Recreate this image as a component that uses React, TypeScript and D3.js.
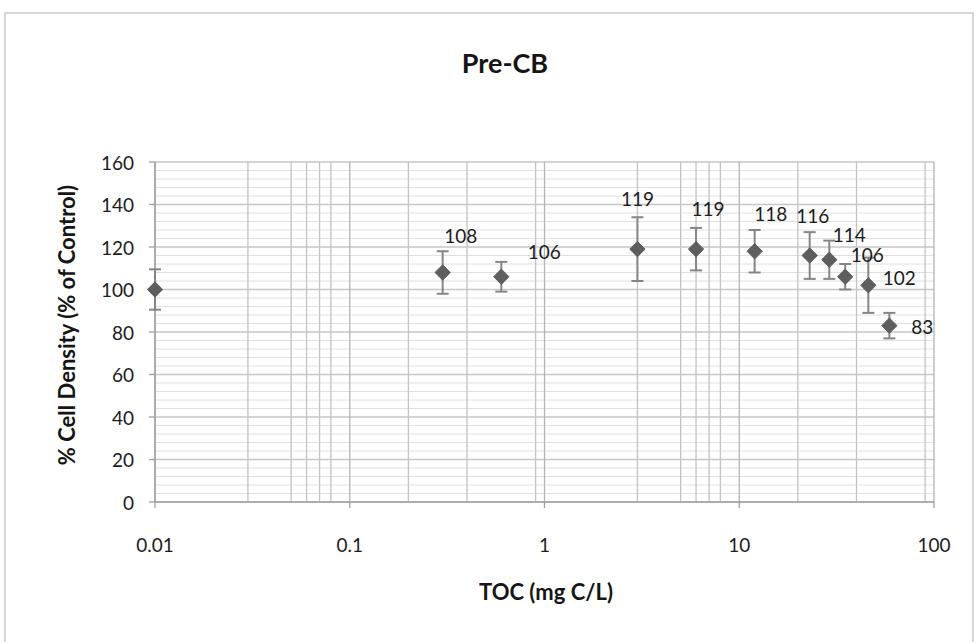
import React from "react";
import * as d3 from "d3";

// TOC concentration (mg C/L) and cell density (% of control) with error (±)
const toc = [0.01, 0.3, 0.6, 3, 6, 12, 23, 29, 35, 46, 59];
const density = [100, 108, 106, 119, 119, 118, 116, 114, 106, 102, 83];
const errors = [9.5, 10, 7, 15, 10, 10, 11, 9, 6, 13, 6];
// data label text (null = unlabelled point)
const labels = [null, "108", "106", "119", "119", "118", "116", "114", "106", "102", "83"];
// label placement relative to each marker, in px
const labelDx = [0, 18, 43, 0, 12, 16, 3, 20, 22, 31, 33];
const labelDy = [0, -37, -25, -51, -41, -38, -40, -25, -22, -8, 1];

const xTicks = [0.01, 0.1, 1, 10, 100];
const xTickLabels = ["0.01", "0.1", "1", "10", "100"];
const yTicks = [0, 20, 40, 60, 80, 100, 120, 140, 160];
// minor vertical gridlines within each decade
const xMinorGrid = [0.03, 0.05, 0.06, 0.07, 0.08, 0.2, 0.4, 0.9, 3, 5, 6, 7, 8, 20, 40, 90];

const W = 978;
const H = 642;
const FONT = "Lato, 'Open Sans', sans-serif";

export default function App() {
  const x = d3.scaleLog().domain([0.01, 100]).range([155, 934]);
  const y = d3.scaleLinear().domain([0, 160]).range([502, 162]);
  const [x0, x1] = x.range();
  const [y0, y1] = y.range();

  const yMinor = d3.range(0, 161, 4).filter((v) => v % 20 !== 0);
  const diamond = d3.symbol().type(d3.symbolDiamond2).size(150);

  return (
    <svg
      width={W}
      height={H}
      style={{ position: "absolute", left: 0, top: 0, background: "#fff" }}
      fontFamily={FONT}
    >
      <rect x={0} y={0} width={W} height={H} fill="#fff" />
      <rect x={5} y={13} width={968} height={640} fill="none" stroke="#d6d6d6" strokeWidth={2} />

      <text x={505} y={62} textAnchor="middle" dominantBaseline="central" fontSize={27} fontWeight="bold" fill="#151515">
        Pre-CB
      </text>

      {/* gridlines */}
      <g>
        {yMinor.map((v) => (
          <line key={"ym" + v} x1={x0} x2={x1} y1={y(v)} y2={y(v)} stroke="#e0e0e0" strokeWidth={1} />
        ))}
        {xMinorGrid.map((v) => (
          <line key={"xm" + v} x1={x(v)} x2={x(v)} y1={y0} y2={y1} stroke="#c2c2c2" strokeWidth={1.3} />
        ))}
        {yTicks.map((v) => (
          <line key={"yM" + v} x1={x0} x2={x1} y1={y(v)} y2={y(v)} stroke="#c6c6c6" strokeWidth={1.3} />
        ))}
        {xTicks.map((v) => (
          <line key={"xM" + v} x1={x(v)} x2={x(v)} y1={y0} y2={y1} stroke="#b4b4b4" strokeWidth={1.3} />
        ))}
      </g>

      {/* axes */}
      <line x1={x0} x2={x0} y1={y0} y2={y1} stroke="#a0a0a0" strokeWidth={1.5} />
      <line x1={x0} x2={x1} y1={y0} y2={y0} stroke="#a0a0a0" strokeWidth={1.5} />
      {yTicks.map((v) => (
        <g key={"yt" + v}>
          <line x1={x0 - 6} x2={x0} y1={y(v)} y2={y(v)} stroke="#a0a0a0" strokeWidth={1.3} />
          <text x={134} y={y(v)} textAnchor="end" dominantBaseline="central" fontSize={19} fill="#1c1c1c">
            {v}
          </text>
        </g>
      ))}
      {xTicks.map((v, i) => (
        <g key={"xt" + v}>
          <line x1={x(v)} x2={x(v)} y1={y0} y2={y0 + 6} stroke="#a0a0a0" strokeWidth={1.3} />
          <text x={x(v)} y={544} textAnchor="middle" dominantBaseline="central" fontSize={19} fill="#1c1c1c">
            {xTickLabels[i]}
          </text>
        </g>
      ))}

      <text x={546} y={591} textAnchor="middle" dominantBaseline="central" fontSize={22} fontWeight="bold" fill="#151515">
        TOC (mg C/L)
      </text>
      <text
        transform={`translate(66,325) rotate(-90)`}
        textAnchor="middle"
        dominantBaseline="central"
        fontSize={22}
        fontWeight="bold"
        fill="#151515"
      >
        % Cell Density (% of Control)
      </text>

      {/* error bars */}
      {toc.map((t, i) => {
        const cx = x(t);
        const top = y(density[i] + errors[i]);
        const bot = y(density[i] - errors[i]);
        return (
          <g key={"e" + i} stroke="#858585" strokeWidth={2}>
            <line x1={cx} x2={cx} y1={top} y2={bot} />
            <line x1={cx - 6} x2={cx + 6} y1={top} y2={top} />
            <line x1={cx - 6} x2={cx + 6} y1={bot} y2={bot} />
          </g>
        );
      })}

      {/* markers */}
      {toc.map((t, i) => (
        <path
          key={"m" + i}
          d={diamond() as string}
          transform={`translate(${x(t)},${y(density[i])})`}
          fill="#5e5e5e"
          stroke="#5e5e5e"
          strokeWidth={1}
        />
      ))}

      {/* data labels */}
      {toc.map((t, i) =>
        labels[i] ? (
          <text
            key={"l" + i}
            x={x(t) + labelDx[i]}
            y={y(density[i]) + labelDy[i]}
            textAnchor="middle"
            dominantBaseline="central"
            fontSize={19}
            fill="#1c1c1c"
          >
            {labels[i]}
          </text>
        ) : null
      )}
    </svg>
  );
}
